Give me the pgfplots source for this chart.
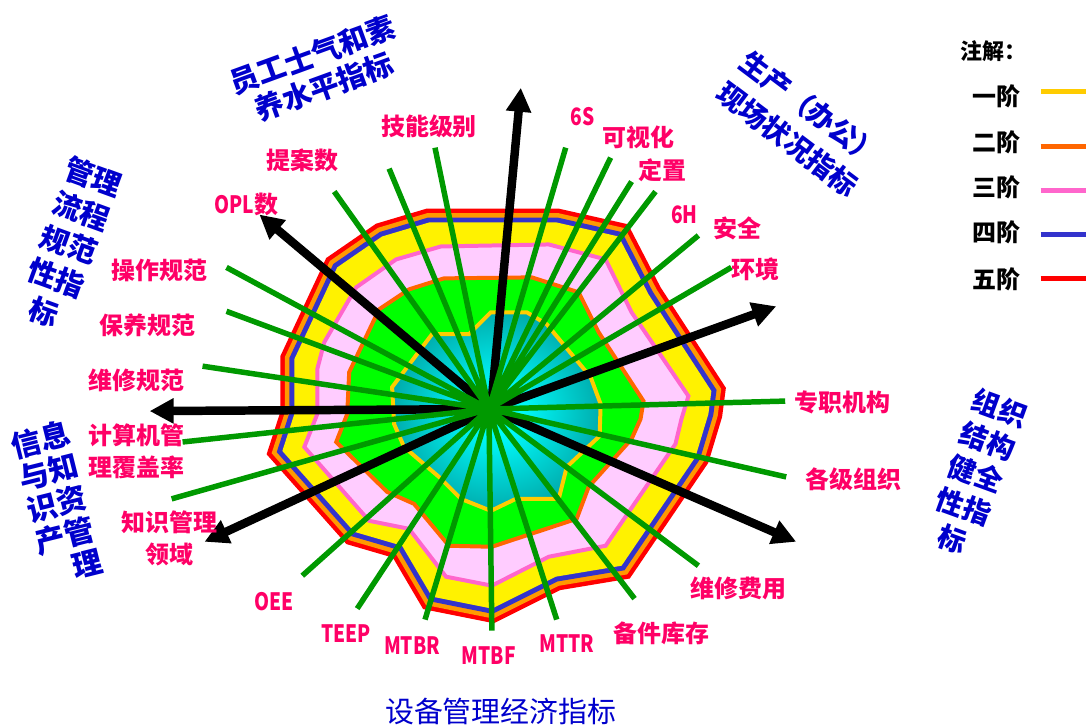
\documentclass[border=0pt]{standalone}
\usepackage{pgfplots}
\pgfplotsset{compat=1.18}
\usepackage{fontspec}
\usetikzlibrary{arrows.meta}
\setmainfont{Noto Sans CJK SC}
\newfontfamily\cjk{Noto Sans CJK SC}

\definecolor{labpink}{HTML}{FF0066}
\definecolor{titleblue}{HTML}{0000CC}
\definecolor{spoke}{HTML}{009900}
\definecolor{bandorange}{HTML}{FF9900}
\definecolor{lineorange}{HTML}{FF6600}
\definecolor{bandblue}{HTML}{3333CC}
\definecolor{pinkline}{HTML}{FF66CC}
\definecolor{pinkfill}{HTML}{FFCCFF}
\definecolor{gold}{HTML}{FFCC00}
\definecolor{tealdark}{HTML}{007F80}

\pgfdeclareradialshading{tealshade}{\pgfpoint{0bp}{0bp}}{%
  color(0bp)=(cyan); color(5bp)=(cyan); color(36bp)=(tealdark); color(50bp)=(tealdark)}

\tikzset{
  lab/.style={font=\cjk\bfseries\fontsize{12}{16}\selectfont, text=labpink, align=center, inner sep=0pt},
  ttl/.style={font=\cjk\bfseries\fontsize{14.5}{17}\selectfont, text=titleblue, align=center, inner sep=0pt},
  leg/.style={font=\cjk\bfseries\fontsize{12}{14}\selectfont, text=black, inner sep=0pt},
  arr/.style={black, line width=4.25pt, -{Triangle[length=12pt,width=12pt]}},
}
\newcommand{\nar}[1]{\scalebox{0.8}[1]{#1}}

\begin{document}
\begin{tikzpicture}
\begin{axis}[
  width=544pt, height=364.5pt, scale only axis,
  xmin=0, xmax=1088, ymin=0, ymax=729, y dir=reverse,
  hide axis, clip=false,
]
% frame of the picture
\addplot[draw=none] coordinates {(0,0) (1088,729)};

% outer band (five / four level): red, orange, blue round the yellow area
\addplot[draw=red, line width=14pt, line join=miter] coordinates {
  (430,223) (558,223) (620,237) (650,295) (713,392) (710,415) (697,458)
  (623,567) (557,578) (493,610) (433,598) (403,547) (355,533) (283,452)
  (295,415) (295,360) (338,268) (383,237)} -- cycle;
\addplot[draw=bandorange, line width=9.5pt, line join=miter] coordinates {
  (430,223) (558,223) (620,237) (650,295) (713,392) (710,415) (697,458)
  (623,567) (557,578) (493,610) (433,598) (403,547) (355,533) (283,452)
  (295,415) (295,360) (338,268) (383,237)} -- cycle;
\addplot[draw=bandblue, line width=5pt, line join=miter] coordinates {
  (430,223) (558,223) (620,237) (650,295) (713,392) (710,415) (697,458)
  (623,567) (557,578) (493,610) (433,598) (403,547) (355,533) (283,452)
  (295,415) (295,360) (338,268) (383,237)} -- cycle;
\addplot[draw=none, fill=yellow] coordinates {
  (430,223) (558,223) (620,237) (650,295) (713,392) (710,415) (697,458)
  (623,567) (557,578) (493,610) (433,598) (403,547) (355,533) (283,452)
  (295,415) (295,360) (338,268) (383,237)} -- cycle;

% third level
\addplot[draw=pinkline, line width=2pt, fill=pinkfill] coordinates {
  (442,247) (550,245) (607,260) (633,313) (690,397) (683,420) (677,445)
  (607,547) (550,558) (493,587) (447,578) (410,530) (370,522) (305,448)
  (318,415) (318,370) (325,343) (357,288) (397,260)} -- cycle;

% second level
\addplot[draw=lineorange, line width=2pt, fill=green] coordinates {
  (445,279) (533,278) (580,293) (600,333) (645,402) (642,420) (633,440)
  (590,488) (578,520) (493,548) (450,547) (415,505) (388,493) (337,443)
  (348,415) (350,373) (380,310) (410,290)} -- cycle;

% first level
\addplot[draw=gold, line width=2pt, shading=tealshade] coordinates {
  (393,388) (433,335) (470,335) (492,313) (528,313) (548,325) (592,378)
  (602,405) (601,437) (568,468) (560,500) (517,500) (492,512) (462,500)
  (440,478) (405,448) (395,425)} -- cycle;

% group arrows
\addplot[arr] coordinates {(492,410) (522,88)};
\addplot[arr] coordinates {(492,410) (260,215)};
\addplot[arr] coordinates {(492,410) (150,412)};
\addplot[arr] coordinates {(492,410) (205,543)};
\addplot[arr] coordinates {(492,410) (798,543)};
\addplot[arr] coordinates {(492,410) (778,307)};

% item spokes
\addplot[spoke, line width=2.75pt, unbounded coords=jump] coordinates {
  (490,410) (335,192) (nan,nan)
  (490,410) (390,169) (nan,nan)
  (490,410) (436,148) (nan,nan)
  (490,410) (567,148) (nan,nan)
  (490,410) (612,158) (nan,nan)
  (490,410) (633,182) (nan,nan)
  (490,410) (657,192) (nan,nan)
  (490,410) (700,236) (nan,nan)
  (490,410) (733,268) (nan,nan)
  (490,410) (787,402) (nan,nan)
  (490,410) (788,478) (nan,nan)
  (490,410) (700,567) (nan,nan)
  (490,410) (636,600) (nan,nan)
  (490,410) (558,621) (nan,nan)
  (490,410) (493,632) (nan,nan)
  (490,410) (426,621) (nan,nan)
  (490,410) (358,610) (nan,nan)
  (490,410) (303,577) (nan,nan)
  (490,410) (172,500) (nan,nan)
  (490,410) (183,443) (nan,nan)
  (490,410) (203,367) (nan,nan)
  (490,410) (227,312) (nan,nan)
  (490,410) (227,268)
};

% item labels
\node[lab] at (430,127) {技能级别};
\node[lab] at (303,161) {提案数};
\node[lab] at (247,205) {\nar{OPL}数};
\node[lab] at (160,271) {操作规范};
\node[lab] at (148,326) {保养规范};
\node[lab] at (137,381) {维修规范};
\node[lab] at (137,452) {计算机管\\理覆盖率};
\node[lab] at (170,540) {知识管理\\领域};
\node[lab] at (275,603) {\nar{OEE}};
\node[lab] at (347,635) {\nar{TEEP}};
\node[lab] at (413,647) {\nar{MTBR}};
\node[lab] at (490,657) {\nar{MTBF}};
\node[lab] at (568,645) {\nar{MTTR}};
\node[lab] at (663,635) {备件库存};
\node[lab] at (740,590) {维修费用};
\node[lab] at (855,480) {各级组织};
\node[lab] at (844,403) {专职机构};
\node[lab] at (757,270) {环境};
\node[lab] at (739,229) {安全};
\node[lab] at (686,215) {\nar{6H}};
\node[lab] at (664,171) {定置};
\node[lab] at (640,138) {可视化};
\node[lab] at (584,117) {\nar{6S}};

% group titles
\node[ttl, rotate=20] at (319,71) {员工士气和素\\养水平指标};
\node[ttl, rotate=-37, font=\cjk\bfseries\fontsize{14}{19.3}\selectfont] at (801,124) {生产（办公）\\现场状况指标};
\node[ttl, rotate=-20, font=\cjk\bfseries\fontsize{14.5}{18}\selectfont] at (69,245) {管理\\流程\\规范\\性指\\标};
\node[ttl, rotate=14, font=\cjk\bfseries\fontsize{15}{16.5}\selectfont] at (57,505) {信息\\与知\\识资\\产管\\\phantom{产}理};
\node[ttl, rotate=-20, font=\cjk\bfseries\fontsize{14}{17.5}\selectfont] at (978,475) {组织\\结构\\健全\\性指\\标};
\node[ttl, font=\cjk\fontsize{14.5}{17}\selectfont] at (502,713) {设备管理经济指标};

% legend
\node[leg, anchor=west, font=\cjk\bfseries\fontsize{11}{13}\selectfont] at (962,51) {注解：};
\node[leg] at (999,97) {一阶};
\node[leg] at (999,143) {二阶};
\node[leg] at (999,188) {三阶};
\node[leg] at (999,233) {四阶};
\node[leg] at (999,280) {五阶};
\addplot[gold, line width=2.5pt] coordinates {(1043,92) (1088,92)};
\addplot[lineorange, line width=2.5pt] coordinates {(1043,147) (1088,147)};
\addplot[pinkline, line width=2.5pt] coordinates {(1043,191) (1088,191)};
\addplot[bandblue, line width=2.5pt] coordinates {(1043,235) (1088,235)};
\addplot[red, line width=2.5pt] coordinates {(1043,279) (1088,279)};
\end{axis}
\end{tikzpicture}
\end{document}
